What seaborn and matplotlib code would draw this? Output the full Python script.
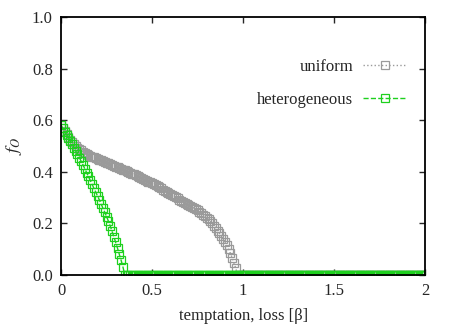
import numpy as np
import pandas as pd
import seaborn as sns
from matplotlib import pyplot as plt

# beta grid, step 0.01 from 0 to 2
beta = np.round(np.arange(201) * 0.01, 2)

# uniform: nonzero part from beta=0.00 to 0.96, zero afterwards
uniform_head = [
    0.580, 0.570, 0.558, 0.546, 0.535, 0.524, 0.515, 0.507, 0.500, 0.494,
    0.488, 0.483, 0.478, 0.474, 0.470, 0.466, 0.462, 0.459, 0.456, 0.453,
    0.450, 0.447, 0.444, 0.441, 0.438, 0.435, 0.432, 0.429, 0.426, 0.423,
    0.420, 0.417, 0.414, 0.411, 0.408, 0.405, 0.402, 0.399, 0.396, 0.393,
    0.390, 0.387, 0.383, 0.380, 0.376, 0.373, 0.369, 0.366, 0.362, 0.359,
    0.355, 0.351, 0.347, 0.343, 0.339, 0.335, 0.331, 0.327, 0.323, 0.319,
    0.315, 0.311, 0.306, 0.302, 0.297, 0.292, 0.288, 0.284, 0.280, 0.276,
    0.272, 0.268, 0.264, 0.259, 0.255, 0.250, 0.245, 0.239, 0.234, 0.228,
    0.222, 0.215, 0.208, 0.200, 0.191, 0.182, 0.172, 0.161, 0.150, 0.139,
    0.127, 0.114, 0.100, 0.084, 0.066, 0.046, 0.025,
]
# heterogeneous: nonzero part from beta=0.00 to 0.34
hetero_head = [
    0.580, 0.568, 0.556, 0.544, 0.532, 0.520, 0.507, 0.494, 0.481, 0.468,
    0.455, 0.441, 0.427, 0.412, 0.397, 0.382, 0.367, 0.352, 0.337, 0.322,
    0.307, 0.291, 0.275, 0.259, 0.243, 0.226, 0.208, 0.189, 0.169, 0.148,
    0.126, 0.103, 0.080, 0.056, 0.030,
]
uniform = uniform_head + [0.0] * (201 - len(uniform_head))
hetero = hetero_head + [0.0] * (201 - len(hetero_head))

df = pd.DataFrame({'beta': beta, 'uniform': uniform, 'heterogeneous': hetero})

sns.set_theme(style='ticks')
plt.rcParams['font.family'] = ['Liberation Serif', 'DejaVu Serif']
plt.rcParams['mathtext.fontset'] = 'stix'

fig = plt.figure(figsize=(4.63, 3.28), dpi=100)
ax = fig.add_axes([0.132, 0.162, 0.786, 0.786])

gray = '#9a9a9a'
green = '#1ed01e'
sns.lineplot(data=df, x='beta', y='uniform', ax=ax, color=gray, linestyle=':', lw=1,
             marker='s', markersize=6, markerfacecolor='none', markeredgecolor=gray,
             markeredgewidth=0.9, label='uniform')
sns.lineplot(data=df, x='beta', y='heterogeneous', ax=ax, color=green, linestyle='--', lw=1,
             marker='s', markersize=6, markerfacecolor='none', markeredgecolor=green,
             markeredgewidth=0.9, label='heterogeneous')

ax.set_xlim(0, 2)
ax.set_ylim(0, 1)
ax.set_xticks([0, 0.5, 1, 1.5, 2])
ax.set_xticklabels(['0', '0.5', '1', '1.5', '2'])
ax.set_yticks([0, 0.2, 0.4, 0.6, 0.8, 1.0])
ax.set_yticklabels(['0.0', '0.2', '0.4', '0.6', '0.8', '1.0'])
ax.tick_params(direction='in', top=True, right=True, length=4, width=1, labelsize=12, pad=6)
for s in ax.spines.values():
    s.set_linewidth(1.3)
    s.set_color('black')

ax.set_xlabel('temptation, loss [β]', fontsize=12, labelpad=6)
ax.set_ylabel('$f_O$', fontsize=13, labelpad=6)

leg = ax.legend(loc='upper right', bbox_to_anchor=(0.99, 0.896), frameon=False, markerfirst=False,
                fontsize=12, handlelength=2.6, labelspacing=1.0, handletextpad=0.6)

fig.savefig('out.png', dpi=100)
